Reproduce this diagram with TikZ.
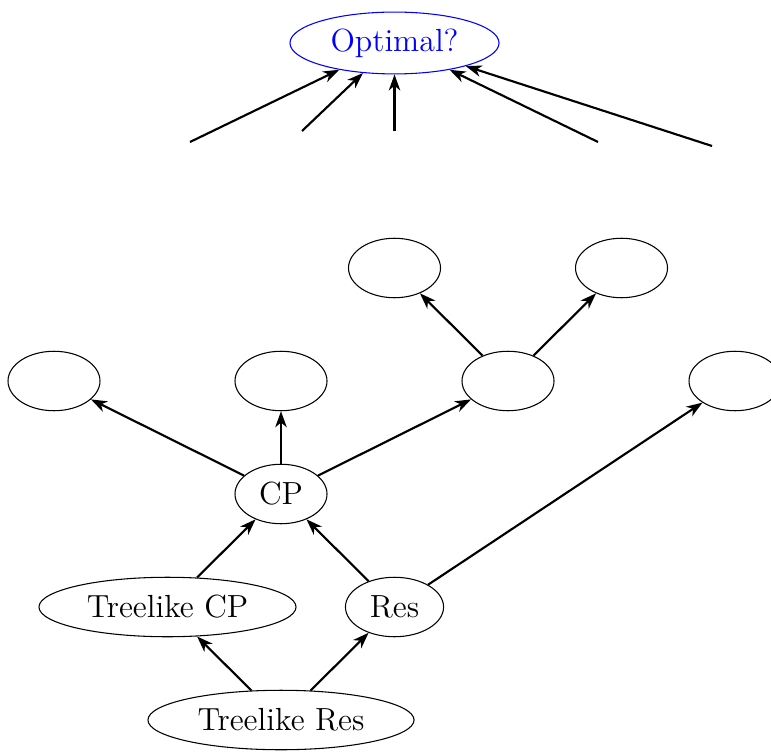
\documentclass[tikz,border=0pt]{standalone}
\usetikzlibrary{shapes.geometric,arrows.meta}
\begin{document}
\begin{tikzpicture}[x=0.375pt,y=-0.375pt,
  every node/.style={font=\fontsize{12}{14}\selectfont},
  oval/.style={draw,ellipse,line width=0.4pt,inner sep=0pt,minimum height=22.3pt},
  blank/.style={oval,minimum width=34.5pt},
  arr/.style={-{Stealth[length=6pt,width=4.3pt,inset=1.8pt]},line width=0.8pt}]
\useasboundingbox (0,0) rectangle (771,751);
\clip (0,0) rectangle (771,751);
% nodes
\node[oval,minimum width=99.8pt] (tres) at (281,720) {Treelike Res};
\node[oval,minimum width=96.4pt] (tcp) at (167.5,607) {Treelike CP};
\node[oval,minimum width=36.8pt] (res) at (394.5,607) {Res};
\node[oval,minimum width=34.5pt] (cp) at (281,494) {CP};
\node[blank] (a1) at (54,381) {};
\node[blank] (a2) at (281,381) {};
\node[blank] (a3) at (508,381) {};
\node[blank] (a4) at (735,381) {};
\node[blank] (b1) at (394.5,268) {};
\node[blank] (b2) at (621.5,268) {};
\node[oval,draw=blue,text=blue,minimum width=78.4pt,minimum height=23.2pt] (opt) at (394.5,43) {Optimal?};
% free ends
\coordinate (f1) at (190,142);
\coordinate (f2) at (302,131);
\coordinate (f3) at (394.5,131);
\coordinate (f4) at (598,142);
\coordinate (f5) at (712,146);
% connectors
\draw[arr] (tres) -- (tcp);
\draw[arr] (tres) -- (res);
\draw[arr] (tcp) -- (cp);
\draw[arr] (res) -- (cp);
\draw[arr] (res) -- (a4);
\draw[arr] (cp) -- (a1);
\draw[arr] (cp) -- (a2);
\draw[arr] (cp) -- (a3);
\draw[arr] (a3) -- (b1);
\draw[arr] (a3) -- (b2);
\draw[arr] (f1) -- (opt);
\draw[arr] (f2) -- (opt);
\draw[arr] (f3) -- (opt);
\draw[arr] (f4) -- (opt);
\draw[arr] (f5) -- (opt);
\end{tikzpicture}
\end{document}
